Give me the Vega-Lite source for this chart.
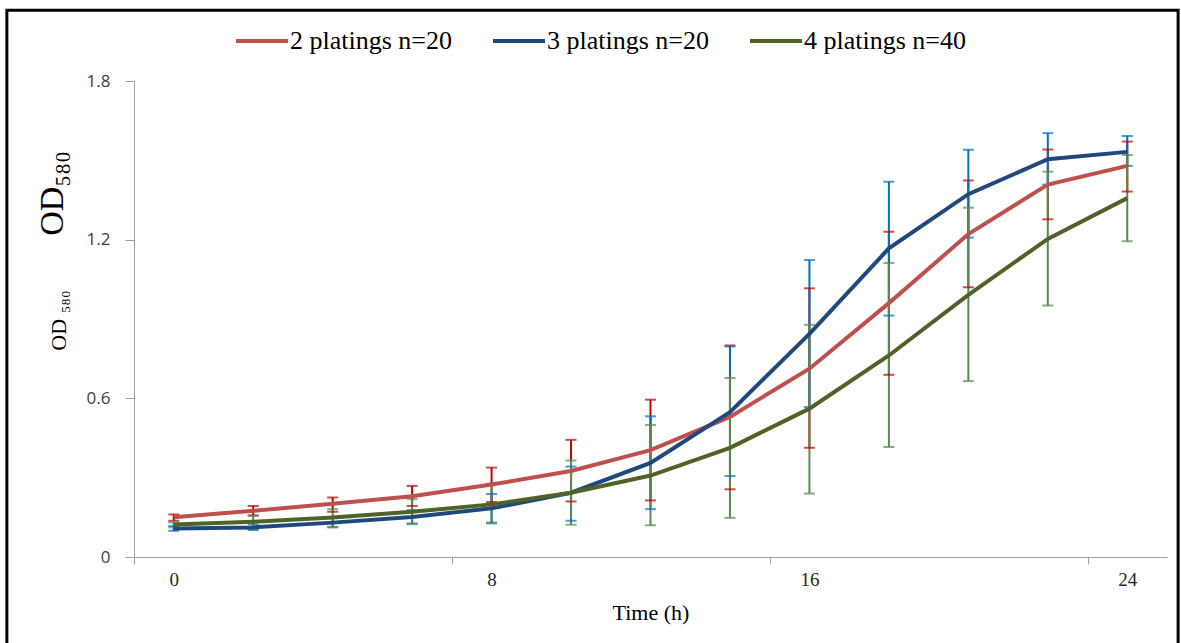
{
  "$schema": "https://vega.github.io/schema/vega-lite/v6.json",
  "width": 1033,
  "height": 476,
  "autosize": {"type": "none"},
  "padding": {"left": 134, "top": 81, "right": 14, "bottom": 86},
  "background": "white",
  "config": {
    "view": {"stroke": null},
    "font": "Liberation Serif",
    "axis": {"titleFontWeight": "normal"},
    "legend": {"labelFont": "Liberation Serif"}
  },
  "datasets": {
    "growth": [
      {"group": "2 platings n=20", "t": 0, "mean": 0.150, "lo": 0.137, "hi": 0.161},
      {"group": "2 platings n=20", "t": 2, "mean": 0.175, "lo": 0.157, "hi": 0.193},
      {"group": "2 platings n=20", "t": 4, "mean": 0.201, "lo": 0.171, "hi": 0.225},
      {"group": "2 platings n=20", "t": 6, "mean": 0.230, "lo": 0.193, "hi": 0.269},
      {"group": "2 platings n=20", "t": 8, "mean": 0.274, "lo": 0.208, "hi": 0.338},
      {"group": "2 platings n=20", "t": 10, "mean": 0.325, "lo": 0.210, "hi": 0.443},
      {"group": "2 platings n=20", "t": 12, "mean": 0.404, "lo": 0.214, "hi": 0.595},
      {"group": "2 platings n=20", "t": 14, "mean": 0.530, "lo": 0.256, "hi": 0.800},
      {"group": "2 platings n=20", "t": 16, "mean": 0.712, "lo": 0.413, "hi": 1.016},
      {"group": "2 platings n=20", "t": 18, "mean": 0.960, "lo": 0.689, "hi": 1.230},
      {"group": "2 platings n=20", "t": 20, "mean": 1.221, "lo": 1.020, "hi": 1.424},
      {"group": "2 platings n=20", "t": 22, "mean": 1.408, "lo": 1.277, "hi": 1.541},
      {"group": "2 platings n=20", "t": 24, "mean": 1.479, "lo": 1.382, "hi": 1.571},
      {"group": "3 platings n=20", "t": 0, "mean": 0.108, "lo": 0.099, "hi": 0.117},
      {"group": "3 platings n=20", "t": 2, "mean": 0.112, "lo": 0.102, "hi": 0.123},
      {"group": "3 platings n=20", "t": 4, "mean": 0.130, "lo": 0.112, "hi": 0.150},
      {"group": "3 platings n=20", "t": 6, "mean": 0.151, "lo": 0.127, "hi": 0.177},
      {"group": "3 platings n=20", "t": 8, "mean": 0.184, "lo": 0.130, "hi": 0.238},
      {"group": "3 platings n=20", "t": 10, "mean": 0.243, "lo": 0.137, "hi": 0.342},
      {"group": "3 platings n=20", "t": 12, "mean": 0.356, "lo": 0.181, "hi": 0.532},
      {"group": "3 platings n=20", "t": 14, "mean": 0.548, "lo": 0.306, "hi": 0.796},
      {"group": "3 platings n=20", "t": 16, "mean": 0.844, "lo": 0.567, "hi": 1.123},
      {"group": "3 platings n=20", "t": 18, "mean": 1.167, "lo": 0.913, "hi": 1.419},
      {"group": "3 platings n=20", "t": 20, "mean": 1.372, "lo": 1.208, "hi": 1.540},
      {"group": "3 platings n=20", "t": 22, "mean": 1.504, "lo": 1.408, "hi": 1.603},
      {"group": "3 platings n=20", "t": 24, "mean": 1.532, "lo": 1.479, "hi": 1.592},
      {"group": "4 platings n=40", "t": 0, "mean": 0.123, "lo": 0.112, "hi": 0.131},
      {"group": "4 platings n=40", "t": 2, "mean": 0.133, "lo": 0.106, "hi": 0.156},
      {"group": "4 platings n=40", "t": 4, "mean": 0.149, "lo": 0.114, "hi": 0.181},
      {"group": "4 platings n=40", "t": 6, "mean": 0.171, "lo": 0.124, "hi": 0.219},
      {"group": "4 platings n=40", "t": 8, "mean": 0.199, "lo": 0.127, "hi": 0.278},
      {"group": "4 platings n=40", "t": 10, "mean": 0.243, "lo": 0.122, "hi": 0.365},
      {"group": "4 platings n=40", "t": 12, "mean": 0.308, "lo": 0.120, "hi": 0.499},
      {"group": "4 platings n=40", "t": 14, "mean": 0.413, "lo": 0.148, "hi": 0.677},
      {"group": "4 platings n=40", "t": 16, "mean": 0.561, "lo": 0.240, "hi": 0.878},
      {"group": "4 platings n=40", "t": 18, "mean": 0.762, "lo": 0.416, "hi": 1.112},
      {"group": "4 platings n=40", "t": 20, "mean": 0.991, "lo": 0.665, "hi": 1.321},
      {"group": "4 platings n=40", "t": 22, "mean": 1.203, "lo": 0.951, "hi": 1.457},
      {"group": "4 platings n=40", "t": 24, "mean": 1.357, "lo": 1.194, "hi": 1.520}
    ]
  },
  "data": {"name": "growth"},
  "layer": [
    {
      "data": {"values": [{}]},
      "mark": {"type": "rect", "fill": null, "stroke": "black", "strokeWidth": 3, "clip": false},
      "encoding": {
        "x": {"datum": -4.2, "type": "quantitative", "scale": {"domain": [-1, 25], "nice": false}},
        "x2": {"datum": 25.28},
        "y": {"datum": 2.068, "type": "quantitative", "axis": null, "scale": {"domain": [0, 1.8], "nice": false}},
        "y2": {"datum": -0.5}
      }
    },
    {
      "encoding": {
        "x": {"field": "t", "type": "quantitative", "scale": {"domain": [-1, 25], "nice": false}},
        "color": {
          "field": "group",
          "type": "nominal",
          "legend": null,
          "scale": {
            "domain": ["2 platings n=20", "3 platings n=20", "4 platings n=40"],
            "range": ["#C00000", "#0070C0", "#558B4E"]
          }
        }
      },
      "layer": [
        {
          "mark": {"type": "rule", "strokeWidth": 2},
          "encoding": {
            "y": {
              "field": "lo",
              "type": "quantitative",
              "scale": {"domain": [0, 1.8], "nice": false},
              "axis": {
                "orient": "left",
                "title": "OD ₅₈₀",
                "titleFont": "Liberation Serif",
                "titleFontSize": 22,
                "titleFontWeight": "normal",
                "titleColor": "black",
                "titleAngle": 270,
                "titleAlign": "center",
                "titleBaseline": "alphabetic",
                "titleX": -69,
                "titleY": 239,
                "labels": false,
                "ticks": false,
                "domain": false,
                "grid": false
              }
            },
            "y2": {"field": "hi"}
          }
        },
        {
          "mark": {"type": "tick", "orient": "horizontal", "size": 11, "thickness": 2},
          "encoding": {"y": {"field": "lo", "type": "quantitative"}}
        },
        {
          "mark": {"type": "tick", "orient": "horizontal", "size": 11, "thickness": 2},
          "encoding": {"y": {"field": "hi", "type": "quantitative"}}
        }
      ]
    },
    {
      "mark": {"type": "line", "strokeWidth": 4},
      "encoding": {
        "x": {
          "field": "t",
          "type": "quantitative",
          "scale": {"domain": [-1, 25], "nice": false},
          "axis": {
            "values": [0, 8, 16, 24],
            "tickOffset": -39.73,
            "labelOffset": 39.73,
            "tickSize": 7,
            "tickColor": "#A0A0A0",
            "domainColor": "#A0A0A0",
            "grid": false,
            "labelFont": "Liberation Serif",
            "labelFontSize": 19,
            "labelColor": "#262626",
            "labelPadding": 6,
            "title": "Time (h)",
            "titleFont": "Liberation Serif",
            "titleFontSize": 22,
            "titleFontWeight": "normal",
            "titleColor": "black",
            "titlePadding": 13
          }
        },
        "y": {
          "field": "mean",
          "type": "quantitative",
          "scale": {"domain": [0, 1.8], "nice": false},
          "axis": {
            "orient": "left",
            "values": [0, 0.6, 1.2, 1.8],
            "format": "~g",
            "tickSize": 9,
            "tickColor": "#A0A0A0",
            "domainColor": "#A0A0A0",
            "gridColor": "#A6A6A6",
            "labelFont": "Open Sans",
            "labelFontSize": 17,
            "labelColor": "#404040",
            "labelPadding": 15,
            "title": "OD₅₈₀",
            "titleFont": "Liberation Serif",
            "titleFontSize": 34,
            "titleFontWeight": "normal",
            "titleColor": "black",
            "titleAngle": 270,
            "titleAlign": "center",
            "titleBaseline": "alphabetic",
            "titleX": -72,
            "titleY": 112
          }
        },
        "color": {
          "field": "group",
          "type": "nominal",
          "scale": {
            "domain": ["2 platings n=20", "3 platings n=20", "4 platings n=40"],
            "range": ["#C0504D", "#1F497D", "#4F6228"]
          },
          "legend": {
            "orient": "none",
            "legendX": 100,
            "legendY": -68,
            "direction": "horizontal",
            "title": null,
            "symbolType": "stroke",
            "symbolSize": 2704,
            "symbolStrokeWidth": 4,
            "labelFont": "Liberation Serif",
            "labelFontSize": 26,
            "labelColor": "black",
            "labelLimit": 400,
            "labelOffset": 0,
            "columnPadding": 33
          }
        }
      }
    }
  ],
  "resolve": {"scale": {"color": "independent"}, "axis": {"y": "independent"}}
}
